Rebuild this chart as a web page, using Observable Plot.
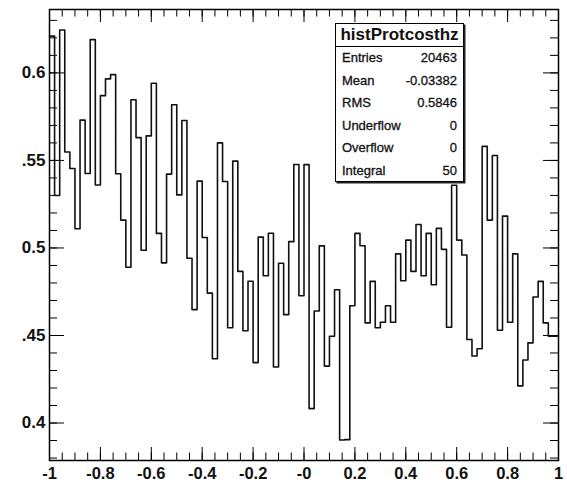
<!DOCTYPE html>
<html>
<head>
<meta charset="utf-8">
<script src="https://cdn.jsdelivr.net/npm/d3@7"></script>
<script src="https://cdn.jsdelivr.net/npm/@observablehq/plot@0.6"></script>
<style>
  html, body { margin: 0; padding: 0; background: #fff; }
  #wrap { position: relative; width: 567px; height: 482px; }
  #stats {
    position: absolute; left: 335px; top: 23px; width: 127px; height: 157px;
    border: 1px solid #000; background: #fff; box-shadow: 1.5px 1.5px 0 #222;
    font-family: "Liberation Sans Narrow", "Liberation Sans", Arial, sans-serif; color: #111;
  }
  #stats .title {
    height: 22px; line-height: 22px; text-align: center; font-weight: bold;
    font-size: 17px; border-bottom: 1px solid #000;
  }
  #stats .row {
    display: flex; justify-content: space-between; height: 22.5px; line-height: 22.5px;
    padding: 0 6px 0 6px; font-size: 13px; -webkit-text-stroke: 0.3px #111;
  }
</style>
</head>
<body>
<div id="wrap"></div>
<script>
// Normalised cos(theta_z) distribution of protons, 100 bins on [-1, 1]
const binLow = -1;
const binHigh = 1;
const binContents = [
  0.621, 0.530, 0.6245, 0.5548, 0.5454, 0.511, 0.573, 0.5425, 0.619, 0.536,
  0.587, 0.5966, 0.599, 0.5424, 0.5159, 0.489, 0.5847, 0.563, 0.4987, 0.564,
  0.5941, 0.5083, 0.4915, 0.5422, 0.5818, 0.5303, 0.5728, 0.4941, 0.4648, 0.5382,
  0.506, 0.4742, 0.4367, 0.560, 0.538, 0.4544, 0.5496, 0.4866, 0.4527, 0.481,
  0.4345, 0.5062, 0.4841, 0.5084, 0.432, 0.4913, 0.4619, 0.5036, 0.5477, 0.4727,
  0.5476, 0.4082, 0.464, 0.5012, 0.4325, 0.4496, 0.4761, 0.3903, 0.3905, 0.467,
  0.5083, 0.5013, 0.4572, 0.4809, 0.4544, 0.4576, 0.467, 0.4576, 0.4966, 0.4813,
  0.5045, 0.4866, 0.5134, 0.4841, 0.5083, 0.479, 0.5112, 0.4992, 0.4547, 0.5358,
  0.5045, 0.496, 0.4477, 0.4383, 0.4424, 0.558, 0.5159, 0.5528, 0.453, 0.5182,
  0.4576, 0.4966, 0.4212, 0.436, 0.4458, 0.472, 0.4809, 0.4572, 0.4496, 0.4496
];

// Axis tick values and their printed labels
const xTickValues = [-1, -0.8, -0.6, -0.4, -0.2, 0, 0.2, 0.4, 0.6, 0.8, 1];
const xTickLabels = ["-1", "-0.8", "-0.6", "-0.4", "-0.2", "-0", "0.2", "0.4", "0.6", "0.8", "1"];
const yTickValues = [0.4, 0.45, 0.5, 0.55, 0.6];
const yTickLabels = ["0.4", ".45", "0.5", ".55", "0.6"];

// Statistics box
const statsTitle = "histProtcosthz";
const statsNames = ["Entries", "Mean", "RMS", "Underflow", "Overflow", "Integral"];
const statsValues = ["20463", "-0.03382", "0.5846", "0", "0", "50"];

// Vertical range: data extent with a 5% margin on each side
const yMin = d3.min(binContents), yMax = d3.max(binContents);
const pad = 0.05 * (yMax - yMin);
const yDomain = [yMin - pad, yMax + pad];

const nBins = binContents.length;
const binWidth = (binHigh - binLow) / nBins;
const steps = binContents.map((v, i) => ({x: binLow + i * binWidth, v}));
steps.push({x: binHigh, v: binContents[nBins - 1]});

const W = 567, H = 482;
const mL = 49, mR = 9, mT = 9, mB = 22;
const innerW = W - mL - mR, innerH = H - mT - mB;

const minorX = d3.range(-1, 1.0001, 0.05).map(d => +d.toFixed(2));
const minorY = d3.range(0.37, 0.64, 0.01).map(d => +d.toFixed(2)).filter(d => d >= yDomain[0] && d <= yDomain[1]);
const majorY = yTickValues;

const font = "'Liberation Sans', Arial, sans-serif";
const ax = {stroke: "#000", strokeWidth: 1};

const chart = Plot.plot({
  width: W, height: H,
  marginLeft: mL, marginRight: mR, marginTop: mT, marginBottom: mB,
  style: {fontFamily: font, background: "#fff", overflow: "visible"},
  x: {domain: [binLow, binHigh], axis: null},
  y: {domain: yDomain, axis: null},
  marks: [
    // ticks pointing into the frame on all four sides
    Plot.ruleX(minorX, {x: d => d, insetTop: innerH - 7.5, ...ax}),
    Plot.ruleX(xTickValues, {x: d => d, insetTop: innerH - 13, ...ax}),
    Plot.ruleX(minorX, {x: d => d, insetBottom: innerH - 7.5, ...ax}),
    Plot.ruleX(xTickValues, {x: d => d, insetBottom: innerH - 13, ...ax}),
    Plot.ruleY(minorY, {y: d => d, insetRight: innerW - 8, ...ax}),
    Plot.ruleY(majorY, {y: d => d, insetRight: innerW - 15, ...ax}),
    Plot.ruleY(minorY, {y: d => d, insetLeft: innerW - 8, ...ax}),
    Plot.ruleY(majorY, {y: d => d, insetLeft: innerW - 15, ...ax}),
    // histogram outline
    Plot.line(steps, {x: "x", y: "v", curve: "step-after", stroke: "#111", strokeWidth: 1.6}),
    Plot.frame({stroke: "#000", strokeWidth: 1.5}),
    // tick labels
    Plot.text(xTickValues, {
      x: d => d, text: (d, i) => xTickLabels[i], frameAnchor: "bottom", lineAnchor: "top",
      dy: 7, fontSize: 16.5, fontWeight: "bold", fill: "#111"
    }),
    Plot.text(yTickValues, {
      y: d => d, text: (d, i) => yTickLabels[i], frameAnchor: "left", textAnchor: "end",
      dx: -4, fontSize: 17, fontWeight: "bold", fill: "#111"
    })
  ]
});

const wrap = document.getElementById("wrap");
wrap.appendChild(chart);

// statistics box drawn over the upper right of the frame
const box = document.createElement("div");
box.id = "stats";
const title = document.createElement("div");
title.className = "title";
title.textContent = statsTitle;
box.appendChild(title);
statsNames.forEach((name, i) => {
  const row = document.createElement("div");
  row.className = "row";
  const a = document.createElement("span");
  a.textContent = name;
  const b = document.createElement("span");
  b.textContent = statsValues[i];
  row.appendChild(a);
  row.appendChild(b);
  box.appendChild(row);
});
wrap.appendChild(box);
</script>
</body>
</html>
